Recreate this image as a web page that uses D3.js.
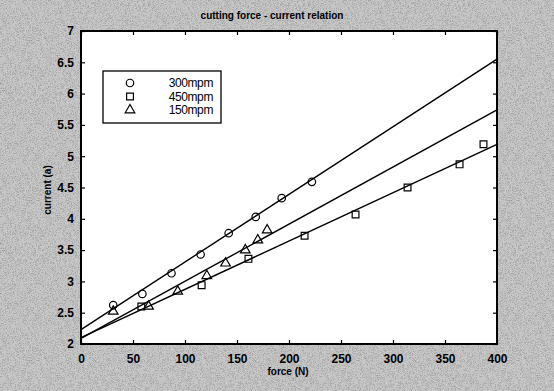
<!DOCTYPE html>
<html>
<head>
<meta charset="utf-8">
<script src="https://cdn.jsdelivr.net/npm/d3@7"></script>
<style>
  html, body { margin: 0; padding: 0; background: #bdbdbd; }
  svg { display: block; }
  text { font-family: "Liberation Sans", Arial, Helvetica, sans-serif; fill: #000; }
</style>
</head>
<body>
<script>
// Cutting force (N) vs spindle current (A), three cutting speeds
const title = "cutting force - current relation";
const xLabel = "force (N)";
const yLabel = "current (a)";

const xTicks = [0, 50, 100, 150, 200, 250, 300, 350, 400];
const yTicks = [2, 2.5, 3, 3.5, 4, 4.5, 5, 5.5, 6, 6.5, 7];

const seriesNames = ["300mpm", "450mpm", "150mpm"];
const seriesSymbols = ["circle", "square", "triangle"];

// measured points
const force300 = [31, 59, 87, 115, 142, 168, 193, 222];
const current300 = [2.62, 2.80, 3.13, 3.43, 3.77, 4.03, 4.33, 4.59];

const force450 = [58, 116, 161, 215, 264, 314, 364, 387];
const current450 = [2.60, 2.94, 3.36, 3.73, 4.07, 4.50, 4.87, 5.19];

const force150 = [31, 65, 93, 121, 139, 158, 170, 179];
const current150 = [2.52, 2.60, 2.84, 3.09, 3.29, 3.50, 3.66, 3.82];

// fitted lines, current at force = 0 and force = 400
const fitForce = [0, 400];
const fit300 = [2.23, 6.55];
const fit450 = [2.10, 5.19];
const fit150 = [2.09, 5.74];

const W = 554, H = 391;
const plot = { left: 81, top: 31, right: 497, bottom: 344 };

const svg = d3.select("body").append("svg")
  .attr("width", W).attr("height", H);

// grainy grey backdrop
const defs = svg.append("defs");
const grain = defs.append("filter").attr("id", "grain")
  .attr("x", 0).attr("y", 0).attr("width", "100%").attr("height", "100%");
grain.append("feTurbulence").attr("type", "fractalNoise")
  .attr("baseFrequency", 1.6).attr("numOctaves", 1).attr("seed", 3).attr("result", "n");
grain.append("feColorMatrix").attr("in", "n").attr("type", "matrix")
  .attr("values", "0 0 0 0 0.1  0 0 0 0 0.1  0 0 0 0 0.1  0 0 0 -2.2 1.25");
svg.append("rect").attr("width", W).attr("height", H).attr("fill", "#c8c8c8");
svg.append("rect").attr("width", W).attr("height", H).attr("filter", "url(#grain)").attr("opacity", 0.5);

const x = d3.scaleLinear().domain([0, 400]).range([plot.left, plot.right]);
const y = d3.scaleLinear().domain([2, 7]).range([plot.bottom, plot.top]);

// plot area
svg.append("rect")
  .attr("x", plot.left).attr("y", plot.top)
  .attr("width", plot.right - plot.left).attr("height", plot.bottom - plot.top)
  .attr("fill", "#fff");

// inward ticks on all four sides
const tickLen = 4;
function styleAxis(g, hideLabels) {
  g.select(".domain").remove();
  g.selectAll(".tick line").attr("stroke", "#000").attr("stroke-width", 1.2);
  g.selectAll(".tick text")
    .attr("font-size", 12).attr("font-weight", "bold");
  if (hideLabels) g.selectAll(".tick text").remove();
}
svg.append("g").attr("transform", `translate(0,${plot.bottom})`)
  .call(d3.axisBottom(x).tickValues(xTicks).tickFormat(d3.format("d"))
    .tickSizeInner(-tickLen).tickSizeOuter(0).tickPadding(10))
  .call(g => styleAxis(g, false));
svg.append("g").attr("transform", `translate(0,${plot.top})`)
  .call(d3.axisTop(x).tickValues(xTicks).tickSizeInner(-tickLen).tickSizeOuter(0))
  .call(g => styleAxis(g, true));
svg.append("g").attr("transform", `translate(${plot.left},0)`)
  .call(d3.axisLeft(y).tickValues(yTicks).tickFormat(d => String(d))
    .tickSizeInner(-tickLen).tickSizeOuter(0).tickPadding(7))
  .call(g => styleAxis(g, false));
svg.append("g").attr("transform", `translate(${plot.right},0)`)
  .call(d3.axisRight(y).tickValues(yTicks).tickSizeInner(-tickLen).tickSizeOuter(0))
  .call(g => styleAxis(g, true));

// frame
svg.append("rect")
  .attr("x", plot.left).attr("y", plot.top)
  .attr("width", plot.right - plot.left).attr("height", plot.bottom - plot.top)
  .attr("fill", "none").attr("stroke", "#000").attr("stroke-width", 2);

// fitted lines
const line = d3.line().x(d => x(d[0])).y(d => y(d[1]));
[fit300, fit450, fit150].forEach(fit => {
  svg.append("path")
    .datum(fitForce.map((f, i) => [f, fit[i]]))
    .attr("d", line)
    .attr("fill", "none").attr("stroke", "#000").attr("stroke-width", 1.4);
});

// markers
const symbolTypes = { circle: d3.symbolCircle, square: d3.symbolSquare, triangle: d3.symbolTriangle };
const symbolSizes = { circle: 44, square: 46, triangle: 40 };
function marker(sel, kind) {
  return sel.append("path")
    .attr("d", d3.symbol().type(symbolTypes[kind]).size(symbolSizes[kind])())
    .attr("fill", "none").attr("stroke", "#000").attr("stroke-width", 1.2);
}
const series = [
  [force300, current300],
  [force450, current450],
  [force150, current150]
];
series.forEach(([fx, cy], si) => {
  fx.forEach((f, i) => {
    const g = svg.append("g").attr("transform", `translate(${x(f)},${y(cy[i])})`);
    marker(g, seriesSymbols[si]);
  });
});

// legend
const legend = svg.append("g");
legend.append("rect")
  .attr("x", 103).attr("y", 71).attr("width", 118).attr("height", 52)
  .attr("fill", "#fff").attr("stroke", "#000").attr("stroke-width", 1.3);
seriesNames.forEach((name, i) => {
  const cy = 83 + i * 13.5;
  const g = legend.append("g").attr("transform", `translate(130,${cy})`);
  marker(g, seriesSymbols[i]);
  legend.append("text")
    .attr("x", 213).attr("y", cy).attr("dy", "0.36em")
    .attr("text-anchor", "end").attr("font-size", 12)
    .attr("letter-spacing", "-0.4")
    .text(name);
});

// titles
svg.append("text").attr("x", 272).attr("y", 19)
  .attr("text-anchor", "middle").attr("font-size", 10).attr("font-weight", "bold")
  .text(title);
svg.append("text").attr("x", 288).attr("y", 375)
  .attr("text-anchor", "middle").attr("font-size", 10).attr("font-weight", "bold")
  .text(xLabel);
svg.append("text")
  .attr("transform", `translate(51,190) rotate(-90)`)
  .attr("text-anchor", "middle").attr("font-size", 10).attr("font-weight", "bold")
  .text(yLabel);
</script>
</body>
</html>
